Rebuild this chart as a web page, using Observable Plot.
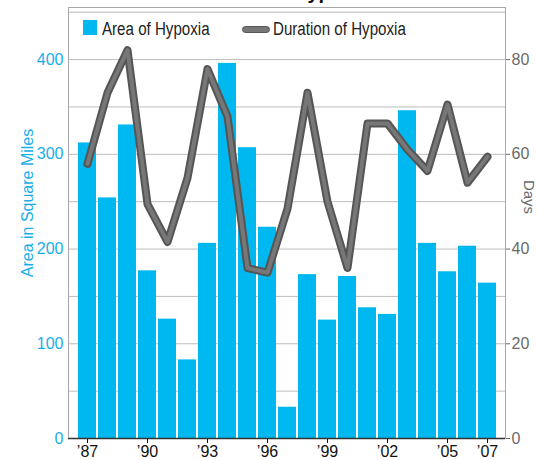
<!DOCTYPE html>
<html><head><meta charset="utf-8">
<script src="https://cdn.jsdelivr.net/npm/d3@7"></script>
<script src="https://cdn.jsdelivr.net/npm/@observablehq/plot@0.6"></script>
<style>
body{margin:0;background:#fff;}
#wrap{position:relative;width:537px;height:460px;overflow:hidden;font-family:"Liberation Sans",Arial,sans-serif;}
#title{position:absolute;left:293px;top:-19px;font:bold 20px "Liberation Sans",Arial,sans-serif;color:#111;white-space:nowrap;}
.lg{position:absolute;white-space:nowrap;font-size:18px;color:#222;line-height:18px;transform:scaleX(0.84);transform-origin:0 0;}
#sw1{position:absolute;left:83px;top:20px;width:14px;height:15px;background:#00b8f0;}
#sw2{position:absolute;left:242px;top:26px;width:26px;height:5px;background:#777;border:1px solid #555;border-radius:4px;}
#chart{position:absolute;left:0;top:0;}
</style></head><body>
<div id="wrap">
<div id="chart"></div>
<div id="title">Hypoxia</div>
<div id="sw1"></div><div class="lg" style="left:102px;top:20px;">Area of Hypoxia</div>
<div id="sw2"></div><div class="lg" style="left:273px;top:20px;">Duration of Hypoxia</div>
</div>
<script>
const years = [1987,1988,1989,1990,1991,1992,1993,1994,1995,1996,1997,1998,1999,2000,2001,2002,2003,2004,2005,2006,2007];
const areaSqMi = [312,254,331,177,126,83,206,396,307,223,33,173,125,171,138,131,346,206,176,203,164];
const durationDays = [58,73,82,49.5,41.5,55,78,68,36,35,48.5,73,50,36,66.5,66.5,61,56.5,70.5,54,59.5];
const areaTicks = [0,100,200,300,400];
const dayTicks = [0,20,40,60,80];
const yearTicks = [1987,1990,1993,1996,1999,2002,2005,2007];

const data = years.map((y,i)=>({year:y, area:areaSqMi[i], days:durationDays[i]}));
const dayToArea = 5;

const chart = Plot.plot({
  width:537, height:460,
  marginLeft:68, marginRight:32, marginTop:7, marginBottom:22,
  style:{fontFamily:'"Liberation Sans", Arial, sans-serif', fontSize:"16px", background:"transparent"},
  x:{type:"band", domain:years, padding:0.1, insetLeft:7, insetRight:7},
  y:{domain:[0,455]},
  marks:[
    Plot.gridY(d3.range(50,451,50), {stroke:"#bcbcbc", strokeOpacity:1}),
    Plot.frame({stroke:"#a8a8a8"}),
    Plot.barY(data, {x:"year", y:"area", fill:"#00b8f0"}),
    Plot.line(data, {x:"year", y:d=>d.days*dayToArea, stroke:"#555", strokeWidth:8, strokeLinejoin:"round", strokeLinecap:"round"}),
    Plot.line(data, {x:"year", y:d=>d.days*dayToArea, stroke:"#777", strokeWidth:4, strokeLinejoin:"round", strokeLinecap:"round"}),
    Plot.axisY(areaTicks, {anchor:"left", tickSize:0, tickPadding:5, color:"#1aaee8", fontSize:16, label:null}),
    Plot.axisY(dayTicks.map(d=>d*dayToArea), {anchor:"right", tickSize:4, tickPadding:2, tickFormat:d=>d/dayToArea, color:"#6a6a6a", fontSize:16, label:null}),
    Plot.axisX(yearTicks, {tickSize:5, tickPadding:2, tickFormat:d=>"\u2019"+String(d).slice(2), color:"#111", fontSize:16, label:null}),
    Plot.ruleY([0], {stroke:"#333", strokeWidth:1.5}),
    Plot.text(["Area in Square Miles"], {text:d=>d, frameAnchor:"left", textAnchor:"middle", rotate:-90, dx:-41, dy:-20, fill:"#1aaee8", fontSize:16}),
    Plot.text(["Days"], {text:d=>d, frameAnchor:"right", textAnchor:"middle", rotate:90, dx:23, dy:-26, fill:"#6a6a6a", fontSize:15})
  ]
});
document.getElementById("chart").appendChild(chart);
</script>
</body></html>
